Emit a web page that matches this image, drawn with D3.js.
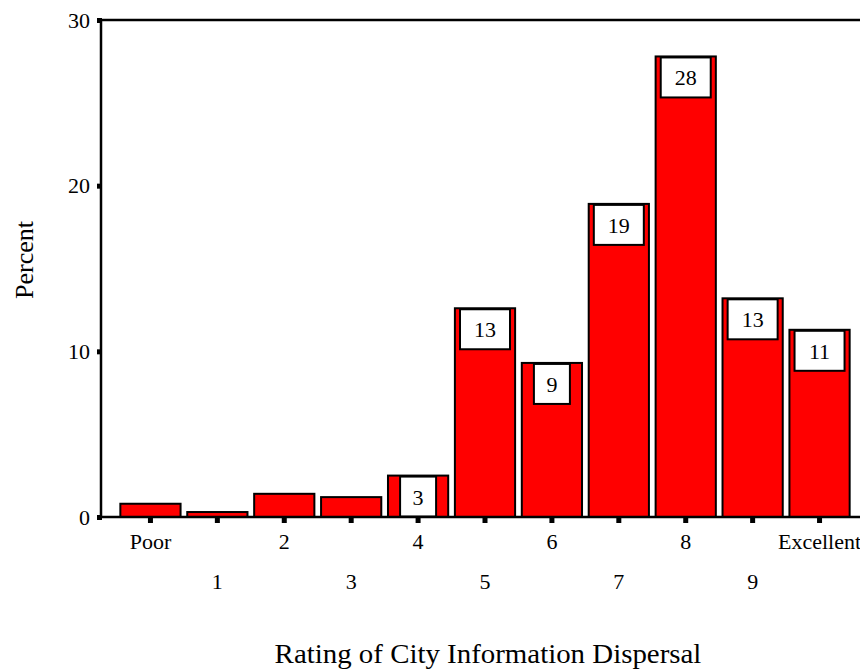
<!DOCTYPE html>
<html>
<head>
<meta charset="utf-8">
<script src="https://cdn.jsdelivr.net/npm/d3@7"></script>
<style>
body { margin: 0; background: #fff; }
text { font-family: "Liberation Serif", "Times New Roman", serif; fill: #000; }
</style>
</head>
<body>
<div id="chart"></div>
<script>
var width = 860, height = 669;
// categories and percent values
var categories = ["Poor", "1", "2", "3", "4", "5", "6", "7", "8", "9", "Excellent"];
var percents = [0.8, 0.3, 1.4, 1.2, 2.5, 12.6, 9.3, 18.9, 27.8, 13.2, 11.3];
var yTicks = [0, 10, 20, 30];

var svg = d3.select("#chart").append("svg")
    .attr("width", width).attr("height", height);

var xScale = d3.scaleBand()
    .domain(categories)
    .range([117, 853])
    .paddingInner(0.1)
    .paddingOuter(0.05);
var yScale = d3.scaleLinear()
    .domain([0, 30])
    .range([517, 20]);

function cx(c){ return xScale(c) + xScale.bandwidth()/2; }
function boxW(v){ return String(Math.round(v)).length > 1 ? 50 : 36; }

// bars
var bars = svg.append("g").selectAll("g.bar")
    .data(categories.map(function(c, i){ return {cat: c, v: percents[i]}; }))
    .enter().append("g").attr("class", "bar");

bars.append("rect")
    .attr("x", function(d){ return xScale(d.cat); })
    .attr("y", function(d){ return yScale(d.v); })
    .attr("width", xScale.bandwidth())
    .attr("height", function(d){ return yScale(0) - yScale(d.v); })
    .style("fill", "#ff0000")
    .style("stroke", "#000")
    .style("stroke-width", 2);

// value label boxes (only where rounded value >= 3)
var labeled = bars.filter(function(d){ return Math.round(d.v) >= 3; });
labeled.append("rect")
    .attr("x", function(d){ return cx(d.cat) - boxW(d.v)/2; })
    .attr("y", function(d){ return yScale(d.v) + 1; })
    .attr("width", function(d){ return boxW(d.v); })
    .attr("height", 40)
    .style("fill", "#fff")
    .style("stroke", "#000")
    .style("stroke-width", 2);
labeled.append("text")
    .attr("x", function(d){ return cx(d.cat); })
    .attr("y", function(d){ return yScale(d.v) + 29; })
    .attr("text-anchor", "middle")
    .style("font-size", "22px")
    .text(function(d){ return Math.round(d.v); });

// frame lines
var frame = svg.append("g").style("stroke", "#000").style("stroke-width", 2.5);
frame.append("line").attr("x1", 101).attr("x2", 101).attr("y1", yScale(30)).attr("y2", yScale(0));
frame.append("line").attr("x1", 101).attr("x2", 860).attr("y1", yScale(30)).attr("y2", yScale(30));
frame.append("line").attr("x1", 101).attr("x2", 860).attr("y1", yScale(0)).attr("y2", yScale(0));

// y ticks
var yAxis = svg.append("g");
yAxis.selectAll("rect").data(yTicks).enter().append("rect")
    .attr("x", 97).attr("y", function(d){ return yScale(d) - 2; })
    .attr("width", 5).attr("height", 5).style("fill", "#000");
yAxis.selectAll("text").data(yTicks).enter().append("text")
    .attr("x", 90).attr("y", function(d){ return yScale(d) + 7.5; })
    .attr("text-anchor", "end")
    .style("font-size", "22px")
    .text(function(d){ return d; });

// x ticks
var xAxis = svg.append("g");
xAxis.selectAll("rect").data(categories).enter().append("rect")
    .attr("x", function(d){ return cx(d) - 2.5; })
    .attr("y", yScale(0) + 1)
    .attr("width", 5).attr("height", 5).style("fill", "#000");
xAxis.selectAll("text").data(categories).enter().append("text")
    .attr("x", cx)
    .attr("y", function(d, i){ return i % 2 == 0 ? 549 : 589; })
    .attr("text-anchor", "middle")
    .style("font-size", "22px")
    .text(function(d){ return d; });

// axis titles
svg.append("text")
    .attr("transform", "translate(488,663) scale(1.07,1)")
    .attr("text-anchor", "middle")
    .style("font-size", "27px")
    .text("Rating of City Information Dispersal");
svg.append("text")
    .attr("transform", "translate(33,260) rotate(-90)")
    .attr("text-anchor", "middle")
    .style("font-size", "26px")
    .text("Percent");
</script>
</body>
</html>
